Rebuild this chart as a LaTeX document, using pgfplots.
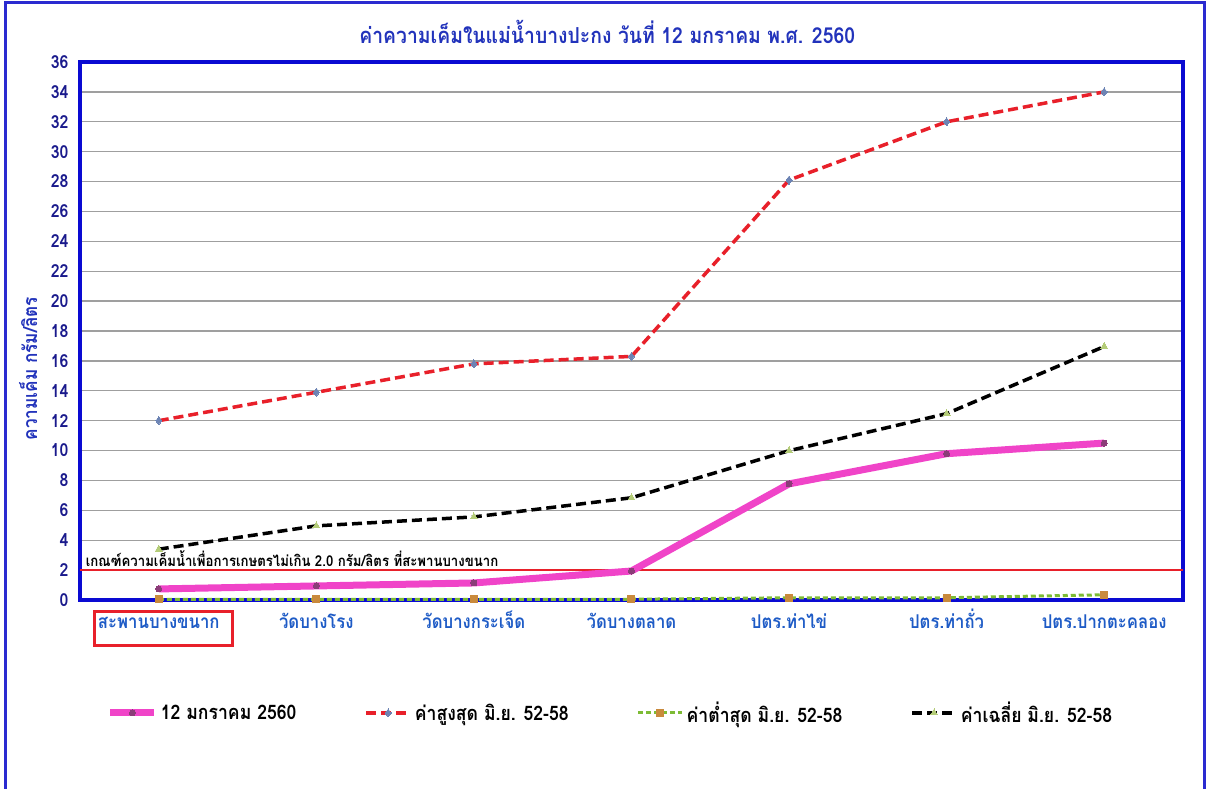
\documentclass[border=0pt]{standalone}
\usepackage{fontspec}
\usepackage{pgfplots}
\pgfplotsset{compat=1.18}
\setmainfont{Loma}[Script=Thai]
\newfontfamily\thaib{Loma}[Script=Thai, FakeStretch=0.88]

\definecolor{titleblue}{HTML}{2233BB}
\definecolor{labblue}{HTML}{1E5BC6}
\definecolor{ticknavy}{HTML}{1A1A8C}
\definecolor{axblue}{HTML}{0A0AD2}
\definecolor{framblue}{HTML}{2A2AD0}
\definecolor{pinkline}{HTML}{F044C8}
\definecolor{pinkmark}{HTML}{8B3C78}
\definecolor{redline}{HTML}{E8202A}
\definecolor{redmark}{HTML}{6D84B4}
\definecolor{greenline}{HTML}{7DBB35}
\definecolor{greenmark}{HTML}{C98A3C}
\definecolor{avgmark}{HTML}{B4CC78}

\begin{document}
\begin{tikzpicture}[x=1pt,y=1pt]
\begin{axis}[
  at={(0,0)}, anchor=origin,
  scale only axis, width=1103pt, height=538pt,
  xmin=-0.5, xmax=6.5, ymin=0, ymax=36,
  xtick={0,...,6},
  xticklabels={สะพานบางขนาก, วัดบางโรง, วัดบางกระเจ็ด, วัดบางตลาด, ปตร.ท่าไข่, ปตร.ท่าถั่ว, ปตร.ปากตะคลอง},
  ytick={0,2,...,36},
  /pgf/number format/assume math mode=true,
  ymajorgrids,
  grid style={draw=gray!75, line width=1.4pt},
  axis line style={draw=axblue, line width=4pt},
  tick style={draw=none},
  xticklabel style={font=\thaib\bfseries\fontsize{19}{21}\selectfont, text=labblue,
    anchor=north, text height=15pt, text depth=5pt, yshift=-10pt},
  yticklabel style={font=\thaib\bfseries\fontsize{18}{20}\selectfont, text=ticknavy, xshift=-8pt},
  ylabel={ความเค็ม กรัม/ลิตร},
  ylabel style={font=\thaib\bfseries\fontsize{19.5}{21}\selectfont, text=titleblue,
    at={(axis description cs:-0.047,0.43)}, anchor=center},
  title={ค่าความเค็มในแม่น้ำบางปะกง วันที่ 12 มกราคม พ.ศ. 2560},
  title style={font=\thaib\bfseries\fontsize{22}{24}\selectfont, text=titleblue,
    at={(axis description cs:0.478,1.045)}, anchor=center},
  legend columns=4,
  legend style={at={(0.481,-0.21)}, anchor=center, draw=none, fill=none,
    font=\thaib\bfseries\fontsize{20}{22}\selectfont,
    /tikz/every odd column/.append style={column sep=1pt},
    /tikz/every even column/.append style={column sep=66pt}},
  legend image code/.code={%
    \draw[mark repeat=2, mark phase=2, #1] plot coordinates {(0pt,0pt) (22pt,0pt) (44pt,0pt)};},
  clip=false,
]
\coordinate (SW) at (rel axis cs:0,0);

% criterion for agricultural use: 2.0 g/l
\addplot[redline, line width=2pt, forget plot] coordinates {(-0.5,2) (6.5,2)};
\node[anchor=south west, inner sep=1pt, font=\thaib\bfseries\fontsize{15}{17}\selectfont]
  at (axis cs:-0.47,2.15) {เกณฑ์ความเค็มน้ำเพื่อการเกษตรไม่เกิน 2.0 กรัม/ลิตร ที่สะพานบางขนาก};

% 12 Jan 2560
\addplot[pinkline, line width=7pt, mark=*, mark size=3pt,
  mark options={fill=pinkmark, draw=pinkmark, line width=0pt}]
  coordinates {(0,0.74) (1,0.94) (2,1.14) (3,1.94) (4,7.77) (5,9.79) (6,10.5)};
\addlegendentry{12 มกราคม 2560}

% maximum Jun 52-58
\addplot[redline, line width=3.5pt, dash pattern=on 10pt off 5pt, mark=diamond*, mark size=4pt,
  mark options={solid, fill=redmark, draw=redmark, line width=0pt}]
  coordinates {(0,12.0) (1,13.9) (2,15.8) (3,16.3) (4,28.1) (5,32.0) (6,34.0)};
\addlegendentry{ค่าสูงสุด มิ.ย. 52-58}

% minimum Jun 52-58
\addplot[greenline, line width=3pt, dash pattern=on 5pt off 3pt, mark=square*, mark size=3.5pt,
  mark options={solid, fill=greenmark, draw=greenmark, line width=0pt}]
  coordinates {(0,0.05) (1,0.05) (2,0.05) (3,0.05) (4,0.15) (5,0.15) (6,0.35)};
\addlegendentry{ค่าต่ำสุด มิ.ย. 52-58}

% mean Jun 52-58
\addplot[black, line width=3.5pt, dash pattern=on 10pt off 5pt, mark=triangle*, mark size=4pt,
  mark options={solid, fill=avgmark, draw=avgmark, line width=0pt}]
  coordinates {(0,3.4) (1,4.96) (2,5.56) (3,6.84) (4,9.99) (5,12.47) (6,16.96)};
\addlegendentry{ค่าเฉลี่ย มิ.ย. 52-58}
\end{axis}

% page and frame measured from the plot area's lower left corner
\pgfresetboundingbox
\begin{scope}[shift={(SW)}]
  \useasboundingbox (-80,-189) rectangle (1131,600);
  \begin{scope}
    \clip (-80,-189) rectangle (1131,600);
    \draw[framblue, line width=3pt] (-74,-210) rectangle (1124,597);
  \end{scope}
  % box round the first station name
  \draw[redline, line width=3pt] (15,-46) rectangle (152,-12);
\end{scope}
\end{tikzpicture}
\end{document}
